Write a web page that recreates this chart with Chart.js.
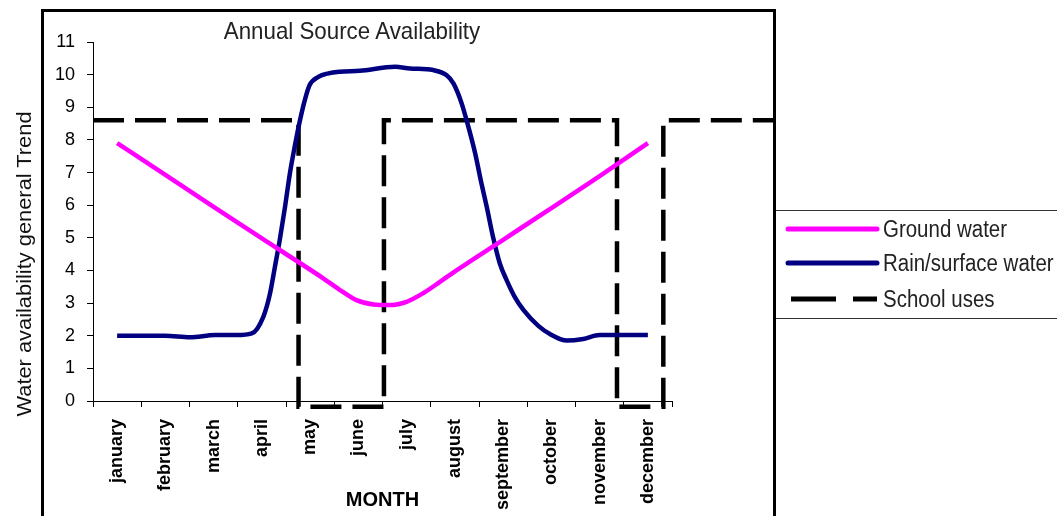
<!DOCTYPE html>
<html>
<head>
<meta charset="utf-8">
<script src="https://cdn.jsdelivr.net/npm/chart.js@4.4.1/dist/chart.umd.min.js"></script>
<style>
  html, body { margin: 0; padding: 0; background: #fff; }
  #wrap { position: relative; width: 1057px; height: 516px; overflow: hidden; }
  #frame { position: absolute; left: 41px; top: 9px; width: 729px; height: 530px; border: 3px solid #000; border-bottom: none; }
  #chart { position: absolute; left: 0; top: 0; }
  .txt { font-family: "Liberation Sans", Arial, sans-serif; color: #222; }
  #title { position: absolute; left: 152px; top: 17px; width: 400px; text-align: center; font-size: 24px; line-height: 28px;
           white-space: nowrap; transform: scaleX(0.93); }
  #ytitle { position: absolute; left: -176px; top: 251px; width: 400px; height: 26px; line-height: 26px; text-align: center;
            font-size: 21px; color: #111; transform: rotate(-90deg) scaleX(1.04); white-space: nowrap; }
  #legend { position: absolute; left: 776px; top: 210px; width: 300px; height: 107px; border-top: 1px solid #333; border-bottom: 1px solid #333; }
  .row { position: absolute; left: 0; height: 30px; width: 300px; }
  .row svg { position: absolute; left: 6px; top: 11px; }
  .row span { position: absolute; left: 107px; top: 0; font-size: 23px; line-height: 30px; white-space: nowrap;
              transform: scaleX(0.89); transform-origin: left center; }
</style>
</head>
<body>
<div id="wrap">
  <div id="frame"></div>
  <canvas id="chart" width="1057" height="516"></canvas>
  <div id="title" class="txt">Annual Source Availability</div>
  <div id="ytitle" class="txt">Water availability general Trend</div>
  <div id="legend" class="txt"></div>
</div>
<script>
// categories
const months = ['january', 'february', 'march', 'april', 'may', 'june',
                'july', 'august', 'september', 'october', 'november', 'december'];

// y axis range (ticks every 1)
const yMin = 0;
const yMax = 11;

// Ground water (x = month index, 0 = january)
const groundX = [0, 1, 2, 3, 4.27, 4.62, 4.96, 5.31, 5.65, 6.0, 6.34, 6.69, 7.04, 8, 9, 10, 11];
const groundY = [7.9, 6.93, 5.95, 4.98, 3.76, 3.4, 3.09, 2.96, 2.94, 3.04, 3.3, 3.65, 4.01, 4.94, 5.91, 6.89, 7.9];

// Rain/surface water
const rainX = [0, 0.99, 1.51, 2.03, 2.48, 2.79, 3.03, 3.17, 3.27, 3.37, 3.48, 3.58, 3.68, 3.79, 3.89, 3.99,
               4.17, 4.38, 4.62, 5.03, 5.76, 6.07, 6.55, 6.83, 6.97, 7.14, 7.28, 7.42, 7.55, 7.66, 7.79, 7.93,
               8.07, 8.24, 8.42, 8.73, 8.97, 9.32, 9.66, 10.0, 11];
const rainY = [2.0, 2.0, 1.95, 2.02, 2.02, 2.07, 2.58, 3.3, 4.11, 4.93, 5.95, 6.97, 7.79, 8.6, 9.22, 9.68,
               9.93, 10.04, 10.09, 10.12, 10.24, 10.19, 10.14, 9.98, 9.73, 9.12, 8.4, 7.59, 6.67, 5.95, 5.03, 4.22,
               3.71, 3.19, 2.79, 2.3, 2.05, 1.85, 1.9, 2.02, 2.02];

// School uses (step outline)
const schoolX = [-0.5, 3.76, 3.76, 5.53, 5.53, 10.36, 10.36, 11.32, 11.32, 13.63];
const schoolY = [8.6, 8.6, -0.18, -0.18, 8.6, 8.6, -0.18, -0.18, 8.6, 8.6];

function pts(xs, ys) {
    return xs.map((x, i) => ({ x: x, y: ys[i] }));
}

const datasets = [
    {
        label: 'Ground water',
        data: pts(groundX, groundY),
        borderColor: '#ff00ff',
        borderWidth: 4.5,
        cubicInterpolationMode: 'monotone',
        pointRadius: 0,
        xAxisID: 'x2',
        clip: false
    },
    {
        label: 'Rain/surface water',
        data: pts(rainX, rainY),
        borderColor: '#000080',
        borderWidth: 4.5,
        cubicInterpolationMode: 'monotone',
        pointRadius: 0,
        xAxisID: 'x2',
        clip: false
    },
    {
        label: 'School uses',
        data: pts(schoolX, schoolY),
        borderColor: '#000000',
        borderWidth: 4.5,
        borderDash: [31, 11],
        borderCapStyle: 'butt',
        tension: 0,
        pointRadius: 0,
        xAxisID: 'x2',
        clip: false
    }
];

const tickFont = { family: '"Liberation Sans", Arial, sans-serif', size: 18 };

new Chart(document.getElementById('chart'), {
    type: 'line',
    data: { datasets: datasets },
    options: {
        responsive: false,
        animation: false,
        devicePixelRatio: 1,
        layout: { padding: { left: 0, top: 42, right: 385, bottom: 0 } },
        plugins: { legend: { display: false }, title: { display: false }, tooltip: { enabled: false } },
        scales: {
            x: {
                type: 'category',
                labels: months,
                offset: true,
                grid: { offset: true, drawOnChartArea: false, drawTicks: true, tickLength: 6, color: '#000' },
                border: { display: true, color: '#000', width: 1 },
                ticks: {
                    autoSkip: false, minRotation: 90, maxRotation: 90, padding: 12, color: '#000',
                    font: { family: '"Liberation Sans", Arial, sans-serif', size: 18, weight: 'bold' }
                },
                title: {
                    display: true, text: 'MONTH', color: '#000', padding: { top: 0, bottom: 4 },
                    font: { family: '"Liberation Sans", Arial, sans-serif', size: 20, weight: 'bold' }
                },
                afterFit: s => { s.height = 115; }
            },
            x2: { type: 'linear', min: -0.5, max: 11.5, display: false },
            y: {
                min: yMin,
                max: yMax,
                ticks: { stepSize: 1, padding: 12, color: '#000', font: tickFont },
                grid: { drawOnChartArea: false, drawTicks: true, tickLength: 6, color: '#000' },
                border: { display: true, color: '#000', width: 1 },
                afterFit: s => { s.width = 93; }
            }
        }
    }
});

// legend built from the datasets
const rowTops = [3, 37, 73];
const legend = document.getElementById('legend');
datasets.forEach((ds, i) => {
    const dash = ds.borderDash ? ' stroke-dasharray="45 17"' : '';
    const x1 = ds.borderDash ? 9 : 6;
    legend.insertAdjacentHTML('beforeend',
        '<div class="row" style="top:' + rowTops[i] + 'px">' +
        '<svg width="100" height="8"><line x1="' + x1 + '" y1="4" x2="95" y2="4" stroke="' + ds.borderColor +
        '" stroke-width="5" stroke-linecap="' + (ds.borderDash ? 'butt' : 'round') + '"' + dash + '/></svg>' +
        '<span>' + ds.label + '</span></div>');
});
</script>
</body>
</html>
